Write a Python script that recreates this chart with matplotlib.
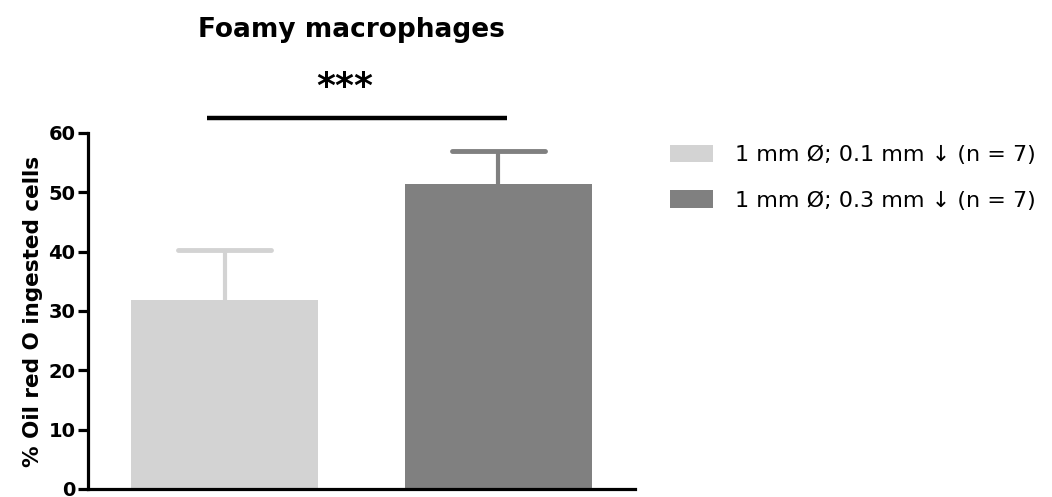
import numpy as np
import matplotlib as mpl
import matplotlib.pyplot as plt
from matplotlib.patches import Patch

mpl.rcParams["font.family"] = ["DejaVu Sans"]

# ===== data =====
groups = ["1 mm Ø; 0.1 mm ↓ (n = 7)", "1 mm Ø; 0.3 mm ↓ (n = 7)"]
means = [31.8, 51.4]
sems = [8.4, 5.6]
colors = ["#d3d3d3", "#808080"]
sig_text = "***"
sig_y = 62.6

fig = plt.figure(figsize=(10.52, 4.97), dpi=100)
ax = fig.add_axes([0.0837, 0.0161, 0.52, 0.7163])

xpos = np.arange(len(means))
bar_w = 0.685
cap_w = 0.17
ax.bar(xpos, means, width=bar_w, color=colors, zorder=2)
# upper error bars only
for x, m, e, c in zip(xpos, means, sems, colors):
    ax.plot([x, x], [m, m + e], c=c, lw=3, zorder=1, solid_capstyle="butt")
    ax.plot([x - cap_w, x + cap_w], [m + e, m + e], c=c, lw=3.5, zorder=1,
            solid_capstyle="round")

# significance bar
ax.plot([-0.064, 1.031], [sig_y, sig_y], c="k", lw=3.2, clip_on=False,
        solid_capstyle="butt")
ax.text(0.44, sig_y + 2.3, sig_text, ha="center", va="bottom",
        fontsize=26, fontweight="bold", clip_on=False)

ax.set_xlim(-0.5, 1.5)
ax.set_ylim(0, 60)
ax.set_yticks(np.arange(0, 61, 10))
ax.set_xticks([])
for s in ["top", "right"]:
    ax.spines[s].set_visible(False)
for s in ["left", "bottom"]:
    ax.spines[s].set_linewidth(2.3)
ax.tick_params(axis="y", length=7, width=2.3, labelsize=14, pad=2)
for lab in ax.get_yticklabels():
    lab.set_fontweight("bold")
ax.set_ylabel("% Oil red O ingested cells", fontsize=15.5, fontweight="bold",
              labelpad=4)

fig.text(0.334, 0.94, "Foamy macrophages", ha="center", va="center",
         fontsize=19, fontweight="bold")

handles = [Patch(facecolor=c, edgecolor="none") for c in colors]
fig.legend(handles, groups, loc="upper left", bbox_to_anchor=(0.637, 0.709),
           frameon=False, fontsize=16, handlelength=1.94, handleheight=0.86,
           handletextpad=1.0, labelspacing=1.12, borderpad=0, borderaxespad=0)

plt.savefig("out.png", dpi=100)
